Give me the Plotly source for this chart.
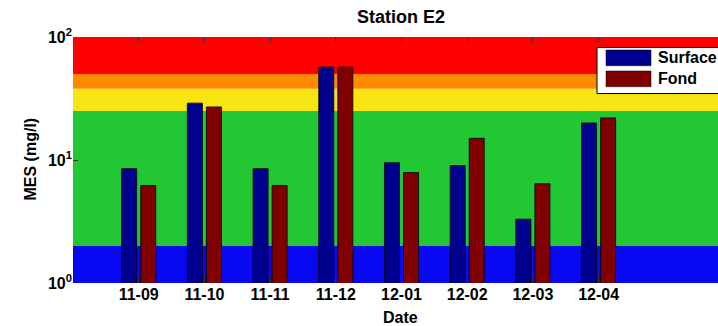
import plotly.graph_objects as go

# Monthly MES values (mg/l) at station E2
dates = ["11-09", "11-10", "11-11", "11-12", "12-01", "12-02", "12-03", "12-04"]
surface = [8.5, 29.0, 8.5, 57.0, 9.5, 9.0, 3.3, 20.0]
fond = [6.2, 27.0, 6.2, 57.0, 7.9, 15.0, 6.4, 22.0]

# Quality class limits (mg/l) and their colours, bottom to top
band_limits = [1, 2, 25, 38, 50, 100]
band_colors = ["#0808F2", "#22C833", "#F6E512", "#FF8A00", "#FF0000"]

surface_color = "#00008F"
fond_color = "#800000"

W, H = 718, 326
ML, MR, MT, MB = 73, 0, 37, 43
PW, PH = W - ML - MR, H - MT - MB

FONT = dict(family="Liberation Sans, Arial, sans-serif", size=16, color="black", weight="bold")


def px_x(px):
    return (px - ML) / PW


def px_y(py):
    return (H - MB - py) / PH


x = list(range(1, len(dates) + 1))

fig = go.Figure()
fig.add_trace(go.Bar(x=x, y=surface, name="Surface", marker=dict(color=surface_color, line=dict(color="black", width=0.8)), showlegend=False))
fig.add_trace(go.Bar(x=x, y=fond, name="Fond", marker=dict(color=fond_color, line=dict(color="black", width=0.8)), showlegend=False))

# Coloured quality bands behind the bars
for lo, hi, col in zip(band_limits[:-1], band_limits[1:], band_colors):
    fig.add_shape(type="rect", xref="paper", yref="y", x0=0, x1=1,
                  y0=lo, y1=hi,
                  fillcolor=col, line=dict(width=0), layer="below")

# Legend box
fig.add_shape(type="rect", xref="paper", yref="paper", x0=px_x(597), x1=px_x(740),
              y0=px_y(93.5), y1=px_y(47.5), fillcolor="white",
              line=dict(color="black", width=1), layer="above")
for (top, bot), col, label, cy in [((50, 65.7), surface_color, "Surface", 57.8),
                                   ((71, 86.7), fond_color, "Fond", 78.8)]:
    fig.add_shape(type="rect", xref="paper", yref="paper", x0=px_x(606), x1=px_x(651),
                  y0=px_y(bot), y1=px_y(top), fillcolor=col,
                  line=dict(color="black", width=0.5), layer="above")
    fig.add_annotation(xref="paper", yref="paper", x=px_x(656), y=px_y(cy), text=label,
                       showarrow=False, xanchor="left", yanchor="middle", font=FONT)

# Axis titles
fig.add_annotation(xref="paper", yref="paper", x=px_x(400), y=px_y(317), text="Date",
                   showarrow=False, xanchor="center", yanchor="middle", font=FONT)
fig.add_annotation(xref="paper", yref="paper", x=px_x(29.5), y=px_y(159), text="MES (mg/l)",
                   textangle=-90, showarrow=False, xanchor="center", yanchor="middle", font=FONT)

fig.update_layout(
    width=W, height=H,
    margin=dict(l=ML, r=MR, t=MT, b=MB),
    paper_bgcolor="white", plot_bgcolor="white",
    barmode="group", bargap=0.42, bargroupgap=0.21,
    title=dict(text="Station E2", x=401 / W, xref="container", xanchor="center",
               y=1 - 17 / H, yref="container", yanchor="middle",
               font=dict(family=FONT["family"], size=18, color="black", weight="bold")),
    font=FONT,
    showlegend=False,
)
fig.update_xaxes(range=[0, PW / 65.7], tickvals=x, ticktext=dates,
                 ticks="inside", ticklen=5, tickcolor="#333", mirror="ticks",
                 showgrid=False, zeroline=False, showline=False,
                 tickfont=FONT)
fig.update_yaxes(type="log", range=[0, 2], tickvals=[1, 10, 100],
                 ticktext=["10<sup>0</sup>", "10<sup>1</sup>", "10<sup>2</sup>"],
                 ticks="inside", ticklen=5, tickcolor="#333", mirror=False,
                 showgrid=False, zeroline=False, showline=False,
                 tickfont=FONT)

fig.write_html("out.html")
